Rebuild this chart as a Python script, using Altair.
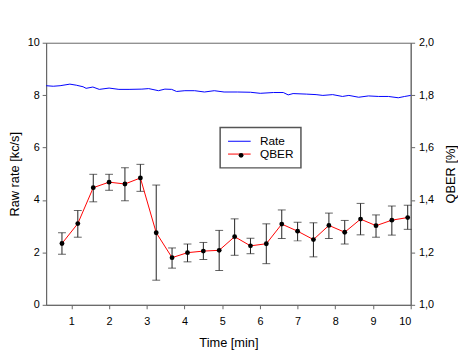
import altair as alt
import pandas as pd

# ---- data ----
rate_time = [0.33, 0.52, 0.70, 0.96, 1.13, 1.31, 1.39, 1.57, 1.74, 2.00,
             2.26, 2.53, 2.87, 3.05, 3.31, 3.48, 3.66, 3.79, 4.01, 4.27,
             4.53, 4.79, 5.05, 5.40, 5.75, 6.01, 6.36, 6.62, 6.75, 6.88,
             7.23, 7.49, 7.67, 7.93, 8.19, 8.36, 8.62, 8.88, 9.15, 9.41,
             9.67, 9.84, 10.0]
rate_vals = [8.36, 8.34, 8.36, 8.42, 8.38, 8.32, 8.26, 8.31, 8.22, 8.27,
             8.22, 8.22, 8.23, 8.25, 8.17, 8.23, 8.22, 8.14, 8.17, 8.17,
             8.12, 8.17, 8.12, 8.12, 8.11, 8.07, 8.10, 8.10, 8.01, 8.06,
             8.04, 8.02, 7.99, 8.02, 7.95, 7.99, 7.92, 7.97, 7.95, 7.95,
             7.90, 7.95, 7.99]

qber_time = [0.75, 1.17, 1.58, 2.0, 2.42, 2.83, 3.25, 3.67, 4.08, 4.5, 4.92, 5.33,
             5.75, 6.17, 6.58, 7.0, 7.42, 7.83, 8.25, 8.67, 9.08, 9.5, 9.92]
qber_vals = [1.234, 1.310, 1.447, 1.468, 1.461, 1.484, 1.275, 1.180, 1.199, 1.205,
             1.208, 1.260, 1.225, 1.233, 1.308, 1.281, 1.249, 1.303, 1.277, 1.327,
             1.302, 1.323, 1.333]
qber_hi = [1.275, 1.360, 1.498, 1.498, 1.523, 1.536, 1.457, 1.217, 1.232, 1.238,
           1.284, 1.328, 1.254, 1.309, 1.362, 1.315, 1.313, 1.350, 1.322, 1.387,
           1.343, 1.377, 1.380]
qber_lo = [1.193, 1.258, 1.393, 1.437, 1.397, 1.433, 1.094, 1.140, 1.164, 1.173,
           1.131, 1.189, 1.195, 1.157, 1.253, 1.244, 1.183, 1.253, 1.232, 1.267,
           1.258, 1.266, 1.288]

x_ticks = list(range(1, 11))
rate_ticks = [0, 2, 4, 6, 8, 10]
qber_ticks = [1.0, 1.2, 1.4, 1.6, 1.8, 2.0]
series_names = ["Rate", "QBER"]
series_colors = ["#0000ff", "#ff0000"]

rate_df = pd.DataFrame({"t": rate_time, "rate": rate_vals, "series": "Rate"})
qber_df = pd.DataFrame({"t": qber_time, "q": qber_vals, "hi": qber_hi,
                        "lo": qber_lo, "series": "QBER"})

FONT = "Liberation Sans"
AX = "#666666"

x_enc = alt.X("t:Q",
              scale=alt.Scale(domain=[0.33, 10], nice=False, zero=False),
              axis=alt.Axis(values=x_ticks, format="d", title="Time [min]",
                            labelPadding=7, titlePadding=10))

LEG_X, LEG_Y, LEG_PAD = 176.6, 86, 7.5

color_enc = alt.Color(
    "series:N",
    scale=alt.Scale(domain=series_names, range=series_colors),
    legend=alt.Legend(
        title=None, orient="none", legendX=LEG_X, legendY=LEG_Y,
        padding=LEG_PAD, symbolType="M-2,0H2", symbolSize=132, symbolOffset=5.5,
        labelOffset=14.4, rowPadding=0, strokeColor="#555555", fillColor="white",
        labelFont=FONT, labelFontSize=12, labelColor="black",
        symbolStrokeWidth=1,
    ),
)

dot_enc = alt.Fill(
    "series:N",
    scale=alt.Scale(domain=["QBER"], range=["black"]),
    legend=alt.Legend(
        title=None, orient="none", legendX=LEG_X + LEG_PAD + 6.25 + 5.5 - 3,
        legendY=LEG_Y + LEG_PAD + 6.25 + 12.5 - 3, padding=0,
        symbolType="circle", symbolSize=24, labelExpr="''", labelOpacity=0,
        symbolStrokeWidth=0, symbolOpacity=1,
    ),
)

rate_line = alt.Chart(rate_df).mark_line(strokeWidth=1).encode(
    x=x_enc,
    y=alt.Y("rate:Q", scale=alt.Scale(domain=[0, 10], nice=False),
            axis=alt.Axis(orient="left", values=rate_ticks, title="Raw rate [kc/s]",
                          labelPadding=3, titlePadding=6)),
    color=color_enc,
)

q_scale = alt.Scale(domain=[1, 2], nice=False, zero=False)
q_axis = alt.Axis(orient="right", values=qber_ticks, title="QBER [%]",
                  labelExpr="replace(format(datum.value, '.1f'), '.', ',')",
                  labelPadding=4, titlePadding=11, titleAngle=270,
                  titleBaseline="top")

err_rule = alt.Chart(qber_df).mark_rule(color="#222222", strokeWidth=1).encode(
    x=x_enc, y=alt.Y("lo:Q", scale=q_scale, axis=q_axis), y2="hi:Q")
cap_hi = alt.Chart(qber_df).mark_tick(color="#222222", orient="horizontal",
                                      size=8, thickness=1).encode(
    x=x_enc, y=alt.Y("hi:Q", scale=q_scale, axis=q_axis))
cap_lo = alt.Chart(qber_df).mark_tick(color="#222222", orient="horizontal",
                                      size=8, thickness=1).encode(
    x=x_enc, y=alt.Y("lo:Q", scale=q_scale, axis=q_axis))
q_line = alt.Chart(qber_df).mark_line(strokeWidth=1).encode(
    x=x_enc, y=alt.Y("q:Q", scale=q_scale, axis=q_axis), color=color_enc)
q_pts = alt.Chart(qber_df).mark_circle(size=24, opacity=1).encode(
    x=x_enc, y=alt.Y("q:Q", scale=q_scale, axis=q_axis), fill=dot_enc)

qber_layer = alt.layer(err_rule, cap_hi, cap_lo, q_line, q_pts)

chart = alt.layer(rate_line, qber_layer).resolve_scale(
    y="independent"
).properties(
    width=370, height=266,
    padding={"left": 38.7, "top": 32.7, "right": 48, "bottom": 44},
    autosize=alt.AutoSizeParams(type="none"),
    background="white",
).configure_view(
    stroke=AX, strokeWidth=1
).configure_axis(
    domainColor=AX, tickColor=AX, tickSize=4, grid=False,
    labelFont=FONT, titleFont=FONT, labelFontSize=11, titleFontSize=13,
    labelColor="black", titleColor="black", titleFontWeight="normal",
).configure_legend(
    strokeWidth=1.5
)

chart.save("out.html", embed_options={"renderer": "svg", "actions": False})
